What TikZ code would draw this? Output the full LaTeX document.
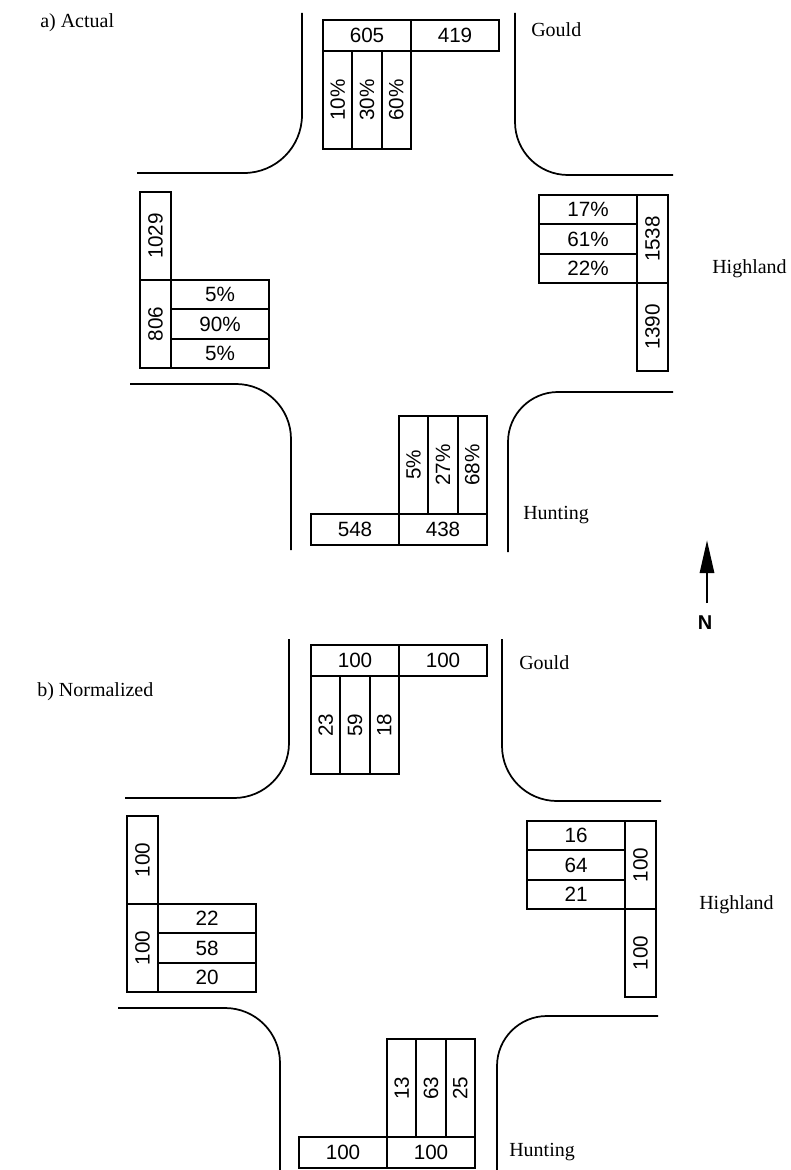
\documentclass[tikz,border=0pt]{standalone}
\usepackage{fontspec}
\setmainfont{Liberation Serif}
\setsansfont{Liberation Sans}
\usetikzlibrary{arrows.meta, positioning}
\newlength\pxu
\setlength\pxu{0.75pt}

\begin{document}
\begin{tikzpicture}[
    x=0.75pt, y=-0.75pt,
    node distance=0pt,
    % Style definitions
    cell/.style={rectangle, draw=black, line width=1.35pt, inner sep=0pt, outer sep=0pt,
                 font=\sffamily\fontsize{15.5}{18}\selectfont},
    hcell/.style={cell, minimum width=88\pxu, minimum height=31\pxu},
    vcell/.style={cell, minimum width=31\pxu, minimum height=88\pxu},
    lanev/.style={cell, minimum width=29.33\pxu, minimum height=98\pxu},
    laneh/.style={cell, minimum width=98\pxu, minimum height=29.33\pxu},
    curb/.style={line width=1.3pt, rounded corners=#1\pxu},
    street/.style={font=\fontsize{15}{18}\selectfont, anchor=base west, inner sep=0pt},
]
\useasboundingbox (0,0) rectangle (791,1170);

% ---------------- a) Actual ----------------
\node[street] (titleA) at (40,28) {a) Actual};

% Curbs
\draw[curb=58] (302,13) -- (302,173) -- (137,173);
\draw[curb=53] (515,13) -- (515,175) -- (673,175);
\draw[curb=55] (130,384) -- (291,384) -- (291,550);
\draw[curb=50] (673,392) -- (508,392) -- (508,552);

% North approach (Gould)
\node[hcell, anchor=north west] (aNin) at (323,20) {605};
\node[hcell, right=of aNin] (aNout) {419};
\node[lanev, below right=0pt of aNin.south west] (aNl) {\rotatebox{90}{10\%}};
\node[lanev, right=of aNl] (aNt) {\rotatebox{90}{30\%}};
\node[lanev, right=of aNt] (aNr) {\rotatebox{90}{60\%}};
\node[street] (gouldA) at (531,37) {Gould};

% West approach
\node[vcell, anchor=north west] (aWout) at (140,192) {\rotatebox{90}{1029}};
\node[vcell, below=of aWout] (aWin) {\rotatebox{90}{806}};
\node[laneh, below right=0pt of aWin.north east] (aWl) {5\%};
\node[laneh, below=of aWl] (aWt) {90\%};
\node[laneh, below=of aWt] (aWr) {5\%};

% East approach (Highland)
\node[laneh, anchor=north west] (aEr) at (539,195) {17\%};
\node[laneh, below=of aEr] (aEt) {61\%};
\node[laneh, below=of aEt] (aEl) {22\%};
\node[vcell, below right=0pt of aEr.north east] (aEin) {\rotatebox{90}{1538}};
\node[vcell, below=of aEin] (aEout) {\rotatebox{90}{1390}};
\node[street] (highlandA) at (712,273) {Highland};

% South approach (Hunting)
\node[lanev, anchor=north west] (aSl) at (399,416) {\rotatebox{90}{5\%}};
\node[lanev, right=of aSl] (aSt) {\rotatebox{90}{27\%}};
\node[lanev, right=of aSt] (aSr) {\rotatebox{90}{68\%}};
\node[hcell, below right=0pt of aSl.south west] (aSin) {438};
\node[hcell, left=of aSin] (aSout) {548};
\node[street] (huntingA) at (523,519) {Hunting};

% North arrow
\node[font=\sffamily\bfseries\fontsize{15}{18}\selectfont] (north) at (705,623) {N};
\coordinate (ntail) at (707,603);
\coordinate (ntip) at (707,540);
\draw[-{Triangle[length=24.75pt, width=10.5pt]}, line width=2.2pt] (ntail) -- (ntip);

% ---------------- b) Normalized ----------------
\node[street] (titleB) at (37,696) {b) Normalized};

% Curbs
\draw[curb=55] (289,639) -- (289,798) -- (125,798);
\draw[curb=55] (502,639) -- (502,801) -- (661,801);
\draw[curb=55] (118,1008) -- (280,1008) -- (280,1170);
\draw[curb=50] (658,1016) -- (497,1016) -- (497,1170);

% North approach (Gould)
\node[hcell, anchor=north west] (bNin) at (311,645) {100};
\node[hcell, right=of bNin] (bNout) {100};
\node[lanev, below right=0pt of bNin.south west] (bNl) {\rotatebox{90}{23}};
\node[lanev, right=of bNl] (bNt) {\rotatebox{90}{59}};
\node[lanev, right=of bNt] (bNr) {\rotatebox{90}{18}};
\node[street] (gouldB) at (519,669) {Gould};

% West approach
\node[vcell, anchor=north west] (bWout) at (127,816) {\rotatebox{90}{100}};
\node[vcell, below=of bWout] (bWin) {\rotatebox{90}{100}};
\node[laneh, below right=0pt of bWin.north east] (bWl) {22};
\node[laneh, below=of bWl] (bWt) {58};
\node[laneh, below=of bWt] (bWr) {20};

% East approach (Highland)
\node[laneh, anchor=north west] (bEr) at (527,821) {16};
\node[laneh, below=of bEr] (bEt) {64};
\node[laneh, below=of bEt] (bEl) {21};
\node[vcell, below right=0pt of bEr.north east] (bEin) {\rotatebox{90}{100}};
\node[vcell, below=of bEin] (bEout) {\rotatebox{90}{100}};
\node[street] (highlandB) at (699,909) {Highland};

% South approach (Hunting)
\node[lanev, anchor=north west] (bSl) at (387,1039) {\rotatebox{90}{13}};
\node[lanev, right=of bSl] (bSt) {\rotatebox{90}{63}};
\node[lanev, right=of bSt] (bSr) {\rotatebox{90}{25}};
\node[hcell, below right=0pt of bSl.south west] (bSin) {100};
\node[hcell, left=of bSin] (bSout) {100};
\node[street] (huntingB) at (509,1156) {Hunting};

\end{tikzpicture}
\end{document}
